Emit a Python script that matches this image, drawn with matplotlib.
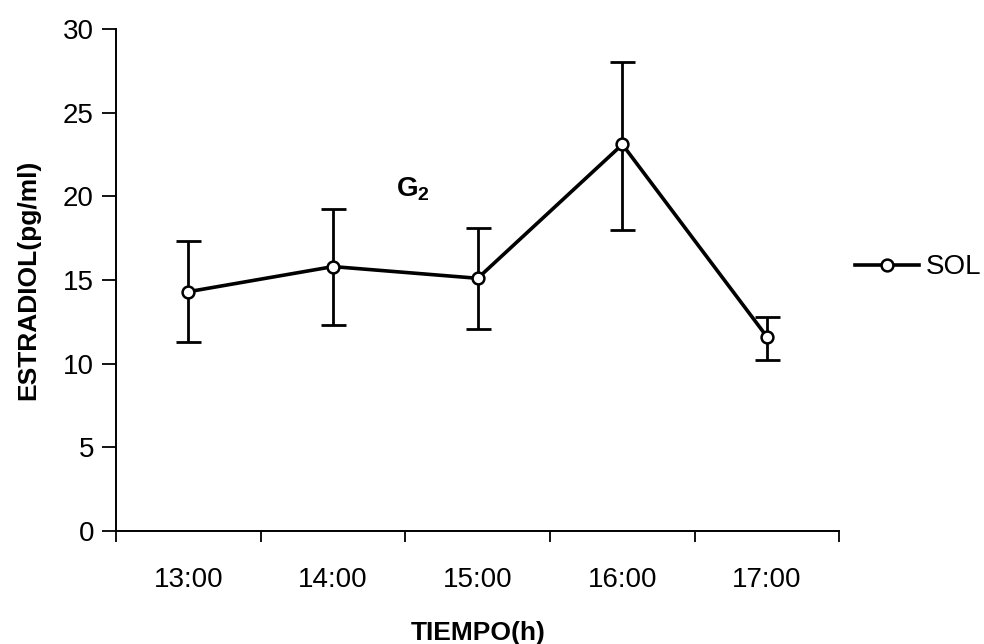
import numpy as np
import matplotlib
matplotlib.use('Agg')
import matplotlib.pyplot as plt

# data
horas = ['13:00', '14:00', '15:00', '16:00', '17:00']
estradiol = [14.3, 15.8, 15.1, 23.1, 11.6]
err_sup = [17.3, 19.25, 18.1, 28.0, 12.8]
err_inf = [11.3, 12.3, 12.1, 18.0, 10.2]

plt.rcParams['font.family'] = ['Liberation Sans', 'DejaVu Sans']
plt.rcParams['mathtext.fontset'] = 'custom'
plt.rcParams['mathtext.bf'] = 'Liberation Sans:bold'
plt.rcParams['mathtext.rm'] = 'Liberation Sans'

x = np.arange(len(horas))
y = np.array(estradiol)
yerr = [y - np.array(err_inf), np.array(err_sup) - y]

fig = plt.figure(figsize=(9.84, 6.44), dpi=100)
ax = fig.add_axes([0.118, 0.1755, 0.735, 0.7795])

ax.errorbar(x, y, yerr=yerr, fmt='none', ecolor='black', elinewidth=2.0,
            capsize=9, capthick=2.0, zorder=2)
ax.plot(x, y, color='black', linewidth=2.6, marker='o', markersize=8.5,
        markerfacecolor='white', markeredgecolor='black', markeredgewidth=1.8,
        label='SOL', zorder=3)

ax.set_xlim(-0.5, 4.5)
ax.set_ylim(0, 30)
ax.set_yticks(np.arange(0, 31, 5))
ax.set_xticks(np.arange(-0.5, 4.6, 1))
ax.set_xticklabels([])
ax.set_xticks(x, minor=True)
ax.set_xticklabels(horas, minor=True)
ax.tick_params(axis='x', which='minor', length=0, pad=26, labelsize=20)
ax.tick_params(axis='x', which='major', length=8, width=1.3, direction='out')
ax.tick_params(axis='y', length=10, width=1.3, direction='out', labelsize=20, pad=6)

ax.spines['top'].set_visible(False)
ax.spines['right'].set_visible(False)
ax.spines['left'].set_linewidth(1.4)
ax.spines['bottom'].set_linewidth(1.4)

ax.set_xlabel('TIEMPO(h)', fontsize=19, fontweight='bold', labelpad=20)
ax.set_ylabel('ESTRADIOL(pg/ml)', fontsize=19, fontweight='bold', labelpad=16)

ax.text(1.55, 20.4, r'$\mathbf{G_2}$', fontsize=20, ha='center', va='center')

ax.legend(loc='center left', bbox_to_anchor=(1.0, 0.525), frameon=False,
          fontsize=20, handlelength=2.3, handletextpad=0.25, borderaxespad=0.15,
          borderpad=0.4)

fig.savefig('out.png', dpi=100, facecolor='white')
